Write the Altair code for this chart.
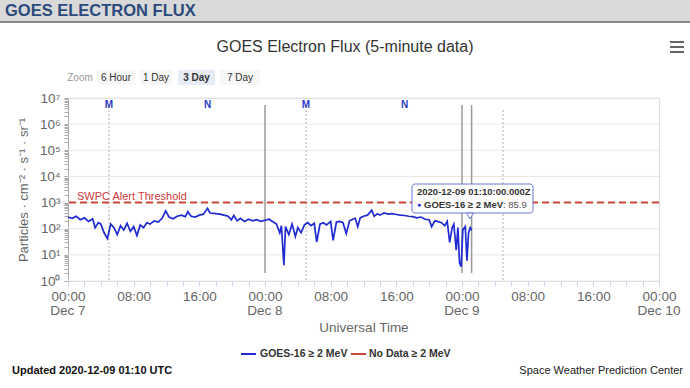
import altair as alt
import pandas as pd

# ---- data (hours since 2020-12-07 00:00 UTC) ----
hours = [0.0, 0.5, 1.0, 1.5, 2.0, 2.5, 3.0, 3.3, 3.7, 4.0, 4.4, 4.8, 5.2, 5.6, 6.0, 6.4, 6.8,
         7.2, 7.6, 8.0, 8.4, 8.8, 9.2, 9.6, 10.0, 10.5, 11.0, 11.5, 11.9, 12.3, 12.8, 13.3,
         13.8, 14.3, 14.6, 15.0, 15.5, 16.0, 16.5, 17.0, 17.3, 18.0, 18.5, 19.0, 19.5, 19.9,
         20.2, 20.6, 21.0, 21.5, 22.0, 22.5, 23.0, 23.5, 24.0, 24.5, 25.0, 25.4, 25.8, 26.0,
         26.3, 26.5, 26.9, 27.3, 27.7, 28.0, 28.4, 28.8, 29.2, 29.6, 30.0, 30.3, 30.7, 31.1,
         31.5, 32.0, 32.3, 32.7, 33.1, 33.5, 33.9, 34.3, 34.7, 35.0, 35.3, 35.6, 36.0, 36.5,
         37.0, 37.3, 37.7, 38.0, 38.5, 39.0, 39.5, 40.0, 40.5, 41.0, 41.5, 42.0, 42.5, 43.0,
         43.5, 44.0, 44.3, 44.7, 45.0, 45.5, 45.9, 46.2, 46.5, 46.8, 47.0, 47.3, 47.5, 47.7,
         47.9, 48.1, 48.4, 48.6, 48.8, 49.0, 49.17]
flux = [280, 250, 300, 220, 260, 190, 240, 110, 170, 150, 70, 42, 150, 110, 60, 130, 90,
        160, 80, 120, 55, 140, 110, 170, 150, 200, 180, 260, 480, 280, 240, 300,
        330, 290, 450, 300, 280, 330, 360, 600, 400, 380, 360, 330, 300, 220,
        320, 200, 250, 190, 230, 200, 220, 190, 210, 230, 180, 150, 70, 130,
        4, 120, 60, 150, 50, 110, 70, 140, 170, 130, 160, 31, 150, 170,
        140, 190, 36, 180, 190, 170, 65, 200, 230, 250, 120, 260, 300, 330,
        510, 300, 370, 330, 400, 360, 380, 350, 330, 320, 300, 290, 260, 280,
        230, 220, 120, 200, 190, 170, 130, 190, 30, 110, 150, 15, 110, 5,
        3.5, 90, 120, 6, 70, 110, 85.9]

solar_hours = [5, 17, 29, 41]
solar_text = ["M", "N", "M", "N"]
midnight_hours = [5, 29, 53]
day_line_hours = [24, 48, 49.17]
date_hours = [0, 24, 48, 72]
date_text = ["Dec 7", "Dec 8", "Dec 9", "Dec 10"]
threshold = [1000]
decades = [1, 10, 100, 1000, 1e4, 1e5, 1e6, 1e7]
x_tick_hours = list(range(0, 73, 2))
y_tick_values = [m * 10 ** k for k in range(0, 7) for m in range(1, 10)] + [1e7]

btn_labels = ["6 Hour", "1 Day", "3 Day", "7 Day"]
legend_labels = ["GOES-16 ≥ 2 MeV", "No Data ≥ 2 MeV"]

BLUE = "#1f2bd1"
RED = "#c9463d"
FONT = "Liberation Sans"

df = pd.DataFrame({"h": hours, "flux": flux})
one = pd.DataFrame({"a": [0]})

xscale = alt.Scale(domain=[0, 72], nice=False, zero=False)
yscale = alt.Scale(type="log", domain=[1, 1e7], nice=False)

x_label_expr = (
    "datum.value % 8 != 0 ? '' : "
    "(datum.value % 24 < 10 ? '0' : '') + (datum.value % 24) + ':00'"
)
y_label_expr = (
    "abs(log(datum.value)/LN10 - round(log(datum.value)/LN10)) < 0.01 ? "
    "'10' + substring('⁰¹²³⁴⁵⁶⁷', round(log(datum.value)/LN10), round(log(datum.value)/LN10) + 1) : ''"
)

x_axis = alt.Axis(
    values=x_tick_hours, labelExpr=x_label_expr, labelFontSize=13.5, labelColor="#666",
    labelFont=FONT, labelPadding=3, labelOverlap=False,
    labelFlush=False, labelBound=False, tickColor="#ccd6eb", tickSize=5,
    domainColor="#ccd6eb", grid=False, title="Universal Time", titleFontSize=13.5,
    titleFontWeight="normal", titleColor="#666", titleFont=FONT, titlePadding=18)
y_axis = alt.Axis(
    values=y_tick_values, labelExpr=y_label_expr, labelFontSize=13.5, labelColor="#666",
    labelFont=FONT, labelPadding=4, labelOverlap=False, labelFlush=False, labelBound=False,
    tickColor="#aaa", tickSize=4, domainColor="#aaa", grid=False,
    title="Particles · cm⁻² · s⁻¹ · sr⁻¹", titleFontSize=13, titleFontWeight="normal",
    titleColor="#666", titleFont=FONT, titlePadding=9)


def X(field):
    return alt.X(field, scale=xscale, axis=x_axis)


def Y(field):
    return alt.Y(field, scale=yscale, axis=y_axis)


def txt(text, x, y, size, color="#333", weight="normal", align="left"):
    return alt.Chart(one).mark_text(
        text=text, fontSize=size, color=color, fontWeight=weight, align=align,
        baseline="middle", font=FONT
    ).encode(x=alt.value(x), y=alt.value(y))


def box(x0, x1, y0, y1, fill, **kw):
    return alt.Chart(one).mark_rect(fill=fill, **kw).encode(
        x=alt.value(x0), x2=alt.value(x1), y=alt.value(y0), y2=alt.value(y1))


def hline(x0, x1, y, color, width):
    return alt.Chart(one).mark_rule(color=color, strokeWidth=width).encode(
        x=alt.value(x0), x2=alt.value(x1), y=alt.value(y))


grid = alt.Chart(pd.DataFrame({"v": decades})).mark_rule(color="#e6e6e6", strokeWidth=1).encode(
    y=Y("v:Q")
)

dotted = alt.Chart(pd.DataFrame({"h": midnight_hours})).mark_rule(
    color="#b0b0b0", strokeWidth=1, strokeDash=[2, 2]
).encode(x=X("h:Q"), y=alt.value(12), y2=alt.value(183))

day_lines = alt.Chart(pd.DataFrame({"h": day_line_hours})).mark_rule(
    color="#9a9a9a", strokeWidth=1.5
).encode(x=X("h:Q"), y=alt.value(7), y2=alt.value(175))

solar = alt.Chart(pd.DataFrame({"h": solar_hours, "t": solar_text})).mark_text(
    color="#2a3bc4", fontWeight="bold", fontSize=10, baseline="middle", font=FONT
).encode(x=X("h:Q"), y=alt.value(7), text="t:N")

dates = alt.Chart(pd.DataFrame({"h": date_hours, "t": date_text})).mark_text(
    color="#666", fontSize=13.5, baseline="middle", font=FONT
).encode(x=X("h:Q"), y=alt.value(213), text="t:N")

thr = alt.Chart(pd.DataFrame({"v": threshold})).mark_rule(
    color=RED, strokeWidth=2, strokeDash=[7, 4]
).encode(y=Y("v:Q"))

thr_text = alt.Chart(pd.DataFrame({"v": threshold})).mark_text(
    text="SWPC Alert Threshold", color="#d03a3a", fontSize=11, align="left",
    baseline="bottom", dy=-1, font=FONT
).encode(y=Y("v:Q"), x=alt.value(9))

line = alt.Chart(df).mark_line(color=BLUE, strokeWidth=1.7).encode(
    x=X("h:Q"), y=Y("flux:Q"))

# ---- tooltip ----
tip_box = box(344, 465, 86, 115, "white", fillOpacity=0.92, stroke="#6a78d8",
              strokeWidth=1, cornerRadius=3)
tip_ptr = alt.Chart(one).mark_point(
    shape="triangle-down", fill="white", stroke="#6a78d8", strokeWidth=1, size=45, opacity=1
).encode(x=alt.value(402), y=alt.value(118))
tip_layers = [
    tip_box, tip_ptr,
    txt("2020-12-09 01:10:00.000Z", 349, 94, 9.5, weight="bold"),
    txt("●", 349, 107, 7, color=BLUE),
    txt(legend_labels[0], 356, 107, 9.5, weight="bold"),
    txt(": 85.9", 435, 107, 9.5, color="#555"),
]

# ---- header / title / buttons ----
deco = [
    box(-68, 622, -98, -76, "#d9d9d9"),
    hline(-68, 622, -76, "#8a8a8a", 2),
    txt("GOES ELECTRON FLUX", -63, -87, 16.5, color="#2c4a7c", weight="bold"),
    txt("GOES Electron Flux (5-minute data)", 277, -51, 16, align="center"),
    hline(602, 616, -56, "#666", 2),
    hline(602, 616, -51, "#666", 2),
    hline(602, 616, -46, "#666", 2),
    txt("Zoom", 12, -20.5, 10, color="#999", align="center"),
]
btn_x0 = [29, 72, 110, 152]
btn_x1 = [67, 104, 147, 192]
for i, lab in enumerate(btn_labels):
    sel = lab == "3 Day"
    deco.append(box(btn_x0[i], btn_x1[i], -28, -13, "#e6ebf5" if sel else "#f7f7f7"))
    deco.append(txt(lab, (btn_x0[i] + btn_x1[i]) / 2, -20.5, 10,
                    weight="bold" if sel else "normal", align="center"))

# ---- legend & footer ----
deco += [
    hline(173, 188, 256, BLUE, 2),
    txt(legend_labels[0], 192, 256, 10.5, weight="bold"),
    hline(283, 298, 256, RED, 2),
    txt(legend_labels[1], 301, 256, 10.5, weight="bold"),
    txt("Updated 2020-12-09 01:10 UTC", -56, 273, 11, color="#111", weight="bold"),
    txt("Space Weather Prediction Center", 615, 273, 11, color="#222", align="right"),
]

chart = alt.layer(
    grid, dotted, day_lines, solar, dates, thr, thr_text, line,
    *tip_layers, *deco,
).properties(
    width=591, height=183,
    autosize=alt.AutoSizeParams(type="none"),
    padding={"left": 68, "top": 98, "right": 31, "bottom": 107},
    background="white",
).configure_view(stroke="#ccd6eb", strokeWidth=1).configure(font=FONT)

chart.save("out.html", embed_options={"renderer": "svg", "actions": False})
